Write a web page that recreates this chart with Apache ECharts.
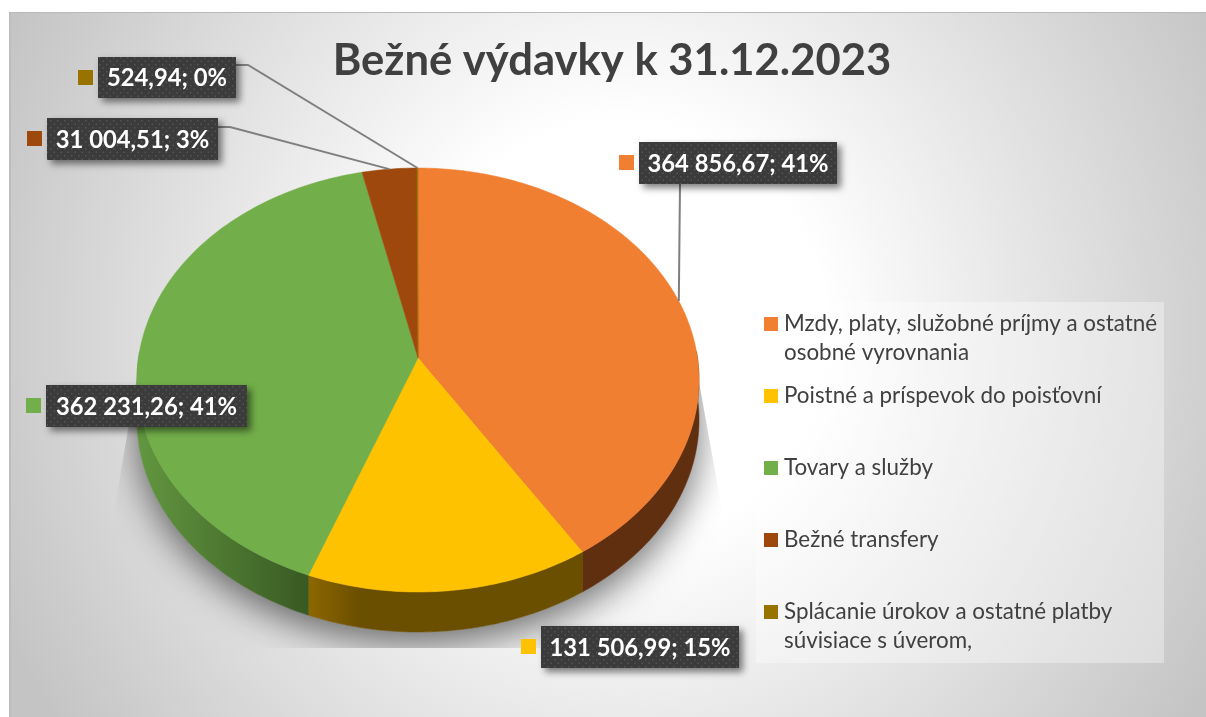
<!DOCTYPE html>
<html>
<head>
<meta charset="utf-8">
<title>Bežné výdavky</title>
<style>
  html, body { margin: 0; padding: 0; background: #fff; overflow: hidden; }
  #bg {
    position: absolute; left: 9px; top: 12px; width: 1197px; height: 705px;
    box-sizing: border-box; border-top: 1px solid #b9b9b9; border-left: 2px solid #bdbdbd;
    background: radial-gradient(ellipse 680px 700px at 610px 320px, #fff 30%, #c4c4c4 100%);
  }
  #chart { position: absolute; left: 0; top: 0; width: 1206px; height: 717px; }
</style>
</head>
<body>
<div id="bg"></div>
<div id="chart"></div>
<script src="https://cdn.jsdelivr.net/npm/echarts@6/dist/echarts.min.js"></script>
<script>
const titleText = 'Bežné výdavky k 31.12.2023'
const categories = [
  'Mzdy, platy, služobné príjmy a ostatné\nosobné vyrovnania',
  'Poistné a príspevok do poisťovní',
  'Tovary a služby',
  'Bežné transfery',
  'Splácanie úrokov a ostatné platby\nsúvisiace s úverom,'
]
const values = [364856.67, 131506.99, 362231.26, 31004.51, 524.94]
const colors = ['#f17f31', '#ffc200', '#72ae49', '#9e480e', '#997300']

// perspective of the tilted disc
const cx = 418, cy = 358, R = 279.5, H = 209.7, P = 0.1038, depth = 40
const font = 'Lato, "Noto Sans", sans-serif'

const total = values.reduce((a, b) => a + b, 0)
const starts = []
values.reduce((sum, v, i) => { starts[i] = sum; return sum + v }, 0)
const toAngle = v => v / total * Math.PI * 2
// only this part of the rim faces the viewer
const rimFrom = Math.PI * 0.49, rimTo = Math.PI * 1.51

function rim(a, down) {
  const u = Math.sin(a), v = -Math.cos(a), k = 1 / (1 - P * v)
  return [cx + R * u * k, cy + H * v * k + (down || 0)]
}
function arc(a0, a1, down) {
  const n = Math.max(2, Math.ceil(Math.abs(a1 - a0) / 0.02)), pts = []
  for (let i = 0; i <= n; i++) pts.push(rim(a0 + (a1 - a0) * i / n, down))
  return pts
}
function sliceAngles(i) {
  return [toAngle(starts[i]), toAngle(starts[i] + values[i])]
}
function formatLabel(i) {
  const [whole, dec] = values[i].toFixed(2).split('.')
  const grouped = whole.replace(/\B(?=(\d{3})+$)/g, ' ')
  return grouped + ',' + dec + '; ' + Math.round(values[i] / total * 100) + '%'
}

// label boxes, marker to the left, elbow = where the leader line leaves the box
const labelBox = [
  { x: 639, y: 142, w: 198, h: 42, elbow: [[680, 184]] },
  { x: 541, y: 626, w: 198, h: 42 },
  { x: 46, y: 385, w: 201, h: 42 },
  { x: 47, y: 118, w: 171, h: 42, elbow: [[218, 127], [230, 127]] },
  { x: 98, y: 57, w: 138, h: 41, elbow: [[236, 65], [248, 65]] }
]
const legendRowY = [317, 389, 461, 533, 605]

const tile = document.createElement('canvas')
tile.width = tile.height = 7
const tc = tile.getContext('2d')
tc.fillStyle = '#3b3b3b'
tc.fillRect(0, 0, 7, 7)
tc.fillStyle = '#545454'
tc.fillRect(1, 1, 1.5, 1.5)
tc.fillRect(4.5, 4.5, 1.5, 1.5)

const sideFill = [
  '#602f10',
  new echarts.graphic.LinearGradient(310, 0, 360, 0, [
    { offset: 0, color: '#8c6600' }, { offset: 1, color: '#6b4f00' }
  ], true),
  new echarts.graphic.LinearGradient(140, 0, 312, 0, [
    { offset: 0, color: '#62963f' }, { offset: 1, color: '#375822' }
  ], true),
  '#602f10',
  '#5c4500'
]

const seriesData = values.map((v, i) => [i, v])

const option = {
  animation: false,
  title: {
    text: titleText,
    left: 607, top: 34, textAlign: 'center',
    textStyle: { fontFamily: font, fontSize: 43.6, fontWeight: 'bold', color: '#404040' }
  },
  series: [
    { // shadow under the pie
      type: 'custom', coordinateSystem: 'none', z: 1, silent: true,
      data: [[0]],
      renderItem: () => ({
        type: 'polygon',
        shape: { points: arc(-Math.PI / 2, Math.PI / 2, 0).concat(arc(Math.PI / 2, Math.PI * 1.5, depth)) },
        style: { fill: '#b4b4b4', shadowBlur: 36, shadowColor: 'rgba(0,0,0,0.55)', shadowOffsetY: 12 },
        clipPath: { type: 'polygon', shape: { points: [[139, 365], [116, 500], [116, 648], [722, 648], [722, 510], [696, 365]] } }
      })
    },
    { // rim
      type: 'custom', coordinateSystem: 'none', z: 2, silent: true,
      data: seriesData,
      renderItem: (params, api) => {
        const i = api.value(0), [s0, s1] = sliceAngles(i)
        const a0 = Math.max(s0, rimFrom), a1 = Math.min(s1, rimTo)
        if (a1 <= a0) return null
        return {
          type: 'polygon',
          shape: { points: arc(a0, a1, 0).concat(arc(a1, a0, depth)) },
          style: { fill: sideFill[i], stroke: sideFill[i], lineWidth: 0.5 }
        }
      }
    },
    { // top face
      type: 'custom', coordinateSystem: 'none', z: 3, silent: true,
      data: seriesData,
      renderItem: (params, api) => {
        const i = api.value(0), [a0, a1] = sliceAngles(i)
        return {
          type: 'polygon',
          shape: { points: [[cx, cy]].concat(arc(a0, a1, 0)) },
          style: { fill: colors[i], stroke: colors[i], lineWidth: 0.5 }
        }
      }
    },
    { // data labels with leader lines
      type: 'custom', coordinateSystem: 'none', z: 4, silent: true,
      data: seriesData,
      renderItem: (params, api) => {
        const i = api.value(0), b = labelBox[i], [a0, a1] = sliceAngles(i)
        const children = []
        if (b.elbow) {
          const end = rim((a0 + a1) / 2)
          children.push({
            type: 'polyline',
            shape: { points: b.elbow.concat([end]) },
            style: { fill: null, stroke: '#7f7f7f', lineWidth: 2 }
          })
        }
        children.push({
          type: 'rect',
          shape: { x: b.x, y: b.y, width: b.w, height: b.h },
          style: { fill: { image: tile, repeat: 'repeat' }, shadowBlur: 7, shadowOffsetX: 4, shadowOffsetY: 4, shadowColor: 'rgba(0,0,0,0.5)' }
        }, {
          type: 'rect',
          shape: { x: b.x - 20, y: b.y + 13, width: 15, height: 15 },
          style: { fill: colors[i] }
        }, {
          type: 'text',
          style: {
            x: b.x + b.w / 2, y: b.y + b.h / 2 + 1, text: formatLabel(i),
            fontFamily: font, fontSize: 23.8, fontWeight: 'bold', fill: '#fff',
            align: 'center', verticalAlign: 'middle'
          }
        })
        return { type: 'group', children }
      }
    },
    { // legend panel
      type: 'custom', coordinateSystem: 'none', z: 5, silent: true,
      data: [[0]],
      renderItem: () => ({
        type: 'rect',
        shape: { x: 756, y: 302, width: 408, height: 361 },
        style: { fill: 'rgba(255,255,255,0.35)' }
      })
    },
    { // legend rows
      type: 'custom', coordinateSystem: 'none', z: 6, silent: true,
      data: seriesData,
      renderItem: (params, api) => {
        const i = api.value(0), y = legendRowY[i]
        return {
          type: 'group',
          children: [{
            type: 'rect',
            shape: { x: 764, y: y, width: 14, height: 14 },
            style: { fill: colors[i] }
          }, {
            type: 'text',
            style: {
              x: 784, y: y - 8, text: categories[i],
              fontFamily: font, fontSize: 22.4, lineHeight: 29, fill: '#404040',
              align: 'left', verticalAlign: 'top'
            }
          }]
        }
      }
    }
  ]
}

const myChart = echarts.init(document.getElementById('chart'))
myChart.setOption(option)
</script>
</body>
</html>
